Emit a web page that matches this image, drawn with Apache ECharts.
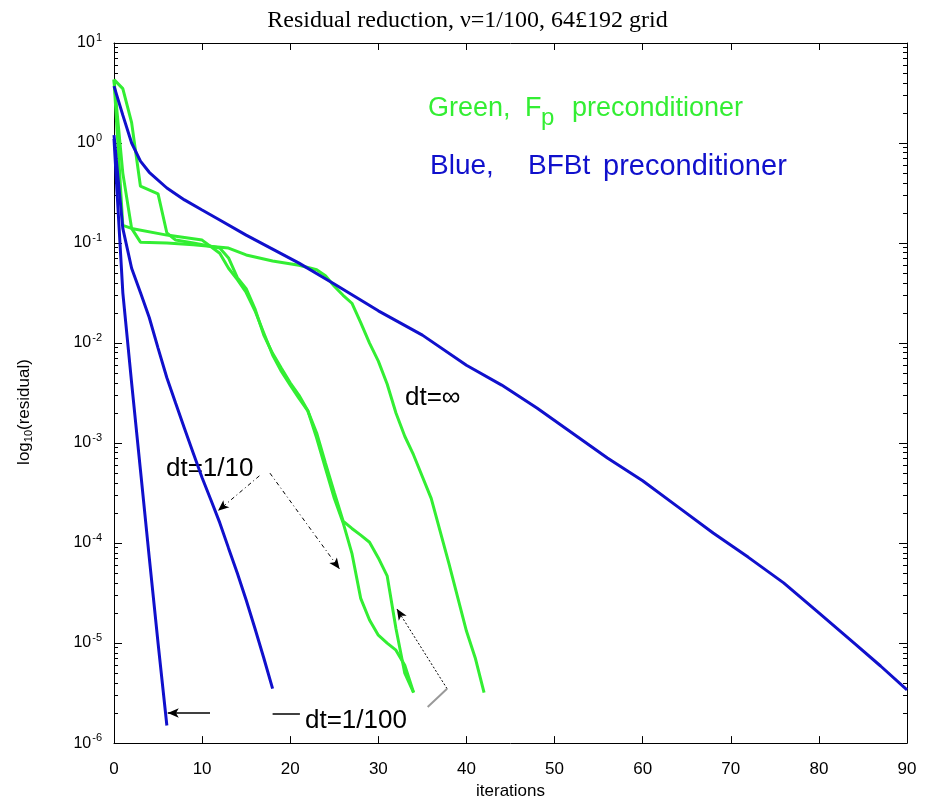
<!DOCTYPE html>
<html><head><meta charset="utf-8">
<script src="https://cdn.jsdelivr.net/npm/echarts@6/dist/echarts.min.js"></script>
<style>html,body{margin:0;padding:0;background:#fff}#c{width:935px;height:805px}</style>
</head><body><div id="c"></div>
<script>
// ---------- data ----------
const xTickValues = [0,10,20,30,40,50,60,70,80,90];
const yDecades = [1e-6,1e-5,1e-4,1e-3,1e-2,1e-1,1,10];

// Blue, BFBt preconditioner, dt = infinity
const blueInfIter = [0,1,2,3,4,6,8,10,12,15,18,21,25,30,35,40,44,48,52,56,60,64,68,72,76,80,84,87,90];
const blueInfRes  = [3.7,1.9,1.0,0.66,0.51,0.355,0.27,0.214,0.17,0.12,0.087,0.063,0.039,0.021,0.012,0.006,3.8e-3,2.24e-3,1.26e-3,7.1e-4,4.2e-4,2.3e-4,1.26e-4,7.2e-5,4.0e-5,2.0e-5,1.0e-5,5.9e-6,3.4e-6];
// Blue, dt = 1/10
const blue10Iter = [0,1,2,3,4,5,6,7,8,9,10,11,12,13,14,15,16,17,18];
const blue10Res  = [1.2,0.14,0.056,0.032,0.018,8.9e-3,4.5e-3,2.5e-3,1.4e-3,7.9e-4,4.5e-4,2.7e-4,1.6e-4,8.9e-5,5.0e-5,2.7e-5,1.4e-5,7.1e-6,3.5e-6];
// Blue, dt = 1/100
const blue100Iter = [0,1,2,3,4,5,6];
const blue100Res  = [1.1,0.032,4.0e-3,5.4e-4,7.2e-5,1.0e-5,1.5e-6];

// Green, Fp preconditioner, dt = infinity
const greenInfIter = [0,1,2,3,6,9,13,15,18,21,23,24,25,26,27,28,29,30,31,32,33,34,36,38,40,41,42];
const greenInfRes  = [4.3,0.5,0.14,0.102,0.1,0.096,0.089,0.076,0.066,0.06,0.054,0.047,0.037,0.030,0.025,0.016,0.01,6.6e-3,3.9e-3,2.0e-3,1.17e-3,7.6e-4,2.8e-4,6.3e-5,1.32e-5,7.1e-6,3.2e-6];
// Green, dt = 1/10
const green10Iter = [0,1,2,6,10,12,13,14,15,16,17,18,19,20,21,22,23,24,25,26,27,28,29,30,31,32,33,34];
const green10Res  = [4.3,0.15,0.14,0.12,0.107,0.079,0.056,0.043,0.032,0.021,0.0126,7.6e-3,5.2e-3,3.8e-3,2.8e-3,2.1e-3,1.12e-3,5.6e-4,2.8e-4,1.6e-4,7.9e-5,2.8e-5,1.7e-5,1.2e-5,1.0e-5,8.5e-6,6.0e-6,3.2e-6];
// Green, dt = 1/100
const green100Iter = [0,1,2,3,5,6,7,9,12,13,14,15,16,17,18,19,20,21,22,23,24,25,26,27,28,29,30,31,32,33,34];
const green100Res  = [4.3,3.5,1.6,0.37,0.31,0.126,0.107,0.1,0.089,0.071,0.045,0.035,0.022,0.012,7.9e-3,5.6e-3,4.0e-3,3.0e-3,2.1e-3,1.26e-3,6.3e-4,3.2e-4,1.66e-4,1.4e-4,1.2e-4,1.02e-4,7.1e-5,4.7e-5,1.4e-5,5.0e-6,3.2e-6];

// annotation arrows (data coordinates: [iteration, residual])
const arrow10a  = [[16.5, 4.7e-4], [11.8, 2.1e-4]];
const arrow10b  = [[17.7, 5.0e-4], [25.6, 5.5e-5]];
const arrow100a = [[37.8, 3.5e-6], [32.1, 2.2e-5]];
const grayTick  = [[35.6, 2.3e-6], [37.8, 3.5e-6]];
const arrow100b = [[10.9, 2.0e-6], [6.1, 2.0e-6]];
const dash100   = [[18.0, 1.95e-6], [21.1, 1.95e-6]];

// ---------- chart ----------
const F = 'Liberation Sans';
const BLUE = '#1010cc';
const GREEN = '#33ee33';
const pairs = (xs, ys) => xs.map((x, i) => [x, ys[i]]);

const minorTicks = [];
for (let k = -6; k < 1; k++) for (let m = 2; m <= 9; m++) minorTicks.push(k + Math.log10(m));

const axisLineStyle = {show: true, onZero: false, lineStyle: {color: '#000', width: 1}};
const noLine = {show: false, onZero: false};

function line(name, xs, ys, color) {
  return {name, type: 'line', data: pairs(xs, ys), showSymbol: false, symbol: 'none',
          lineStyle: {width: 3, color}, itemStyle: {color}, animation: false};
}
function seg(p, style, symbols) {
  return [{coord: p[0], lineStyle: style, symbol: symbols[0]}, {coord: p[1], symbol: symbols[1]}];
}
const dashDot = {color: '#000', width: 1, type: [4, 3, 1, 3]};
const dotted = {color: '#000', width: 1, type: [2, 2]};

const chart = echarts.init(document.getElementById('c'), null, {renderer: 'canvas'});
chart.setOption({
  animation: false,
  backgroundColor: '#fff',
  title: {text: 'Residual reduction, \u03bd=1/100, 64\u00a3192 grid', left: 'center', top: 4,
          textStyle: {fontFamily: 'Liberation Serif', fontSize: 24, fontWeight: 'normal', color: '#000'}},
  grid: {left: 114, right: 28, top: 43, bottom: 56},
  xAxis: [
    {type: 'value', min: 0, max: 90, interval: 10, position: 'bottom',
     name: 'iterations', nameLocation: 'middle', nameGap: 38,
     nameTextStyle: {fontFamily: F, fontSize: 17, color: '#000'},
     axisLine: axisLineStyle, axisTick: {inside: true, length: 7, lineStyle: {color: '#000'}},
     axisLabel: {fontFamily: F, fontSize: 17, color: '#000', margin: 18,
                 customValues: xTickValues},
     splitLine: {show: false}},
    {type: 'value', min: 0, max: 90, interval: 10, position: 'top',
     axisLine: axisLineStyle, axisTick: {inside: true, length: 7, lineStyle: {color: '#000'}},
     axisLabel: {show: false}, splitLine: {show: false}}
  ],
  yAxis: [
    {type: 'log', logBase: 10, min: 1e-6, max: 10, splitNumber: 7, position: 'left',
     axisLine: axisLineStyle, axisTick: {inside: true, length: 8, lineStyle: {color: '#000'}},
     axisLabel: {margin: 12, customValues: yDecades,
                 formatter: v => '{b|10}{s|' + Math.round(Math.log10(v)) + '}',
                 rich: {b: {fontFamily: F, fontSize: 16, color: '#000'},
                        s: {fontFamily: F, fontSize: 11, color: '#000', padding: [0, 0, 10, 1]}}},
     splitLine: {show: false}},
    {type: 'log', logBase: 10, min: 1e-6, max: 10, splitNumber: 7, position: 'right',
     axisLine: axisLineStyle, axisTick: {inside: true, length: 8, lineStyle: {color: '#000'}},
     axisLabel: {show: false}, splitLine: {show: false}},
    {type: 'value', min: -6, max: 1, position: 'left',
     axisLine: noLine, axisLabel: {show: false}, splitLine: {show: false},
     axisTick: {inside: true, length: 4, customValues: minorTicks, lineStyle: {color: '#000'}}},
    {type: 'value', min: -6, max: 1, position: 'right',
     axisLine: noLine, axisLabel: {show: false}, splitLine: {show: false},
     axisTick: {inside: true, length: 4, customValues: minorTicks, lineStyle: {color: '#000'}}}
  ],
  series: [
    line('Green dt=inf', greenInfIter, greenInfRes, GREEN),
    line('Green dt=1/10', green10Iter, green10Res, GREEN),
    line('Green dt=1/100', green100Iter, green100Res, GREEN),
    line('Blue dt=inf', blueInfIter, blueInfRes, BLUE),
    line('Blue dt=1/10', blue10Iter, blue10Res, BLUE),
    line('Blue dt=1/100', blue100Iter, blue100Res, BLUE),
    {type: 'line', name: 'annotations', data: [], silent: true,
     markLine: {silent: true, animation: false, label: {show: false}, symbolSize: [7, 11],
       data: [
         seg(arrow10a, dashDot, ['none', 'arrow']),
         seg(arrow10b, dashDot, ['none', 'arrow']),
         seg(arrow100a, dotted, ['none', 'arrow']),
         seg(grayTick, {color: '#999', width: 2, type: 'solid'}, ['none', 'none']),
         seg(arrow100b, {color: '#000', width: 1.5, type: 'solid'}, ['none', 'arrow']),
         seg(dash100, {color: '#000', width: 1.5, type: 'solid'}, ['none', 'none'])
       ]}}
  ],
  graphic: [
    {type: 'text', x: 24, y: 412, rotation: Math.PI / 2,
     style: {text: '{a|log}{s|10}{a|(residual)}', align: 'center', verticalAlign: 'middle',
             rich: {a: {fontFamily: F, fontSize: 17, fill: '#000'},
                    s: {fontFamily: F, fontSize: 11, fill: '#000', padding: [9, 0, 0, 0]}}}},
    {type: 'text', left: 428, top: 95, style: {text: 'Green,', fill: GREEN, font: '27px "Liberation Sans"'}},
    {type: 'text', left: 525, top: 95, style: {text: 'F', fill: GREEN, font: '27px "Liberation Sans"'}},
    {type: 'text', left: 541, top: 106, style: {text: 'p', fill: GREEN, font: '24px "Liberation Sans"'}},
    {type: 'text', left: 572, top: 95, style: {text: 'preconditioner', fill: GREEN, font: '27px "Liberation Sans"'}},
    {type: 'text', left: 430, top: 152, style: {text: 'Blue,', fill: BLUE, font: '28px "Liberation Sans"'}},
    {type: 'text', left: 528, top: 152, style: {text: 'BFBt', fill: BLUE, font: '28px "Liberation Sans"'}},
    {type: 'text', left: 603, top: 152, style: {text: 'preconditioner', fill: BLUE, font: '29px "Liberation Sans"'}},
    {type: 'text', left: 405, top: 385, style: {text: 'dt=\u221e', fill: '#000', font: '26px "Liberation Sans"'}},
    {type: 'text', left: 166, top: 456, style: {text: 'dt=1/10', fill: '#000', font: '26px "Liberation Sans"'}},
    {type: 'text', left: 305, top: 708, style: {text: 'dt=1/100', fill: '#000', font: '26px "Liberation Sans"'}}
  ]
});
</script></body></html>
